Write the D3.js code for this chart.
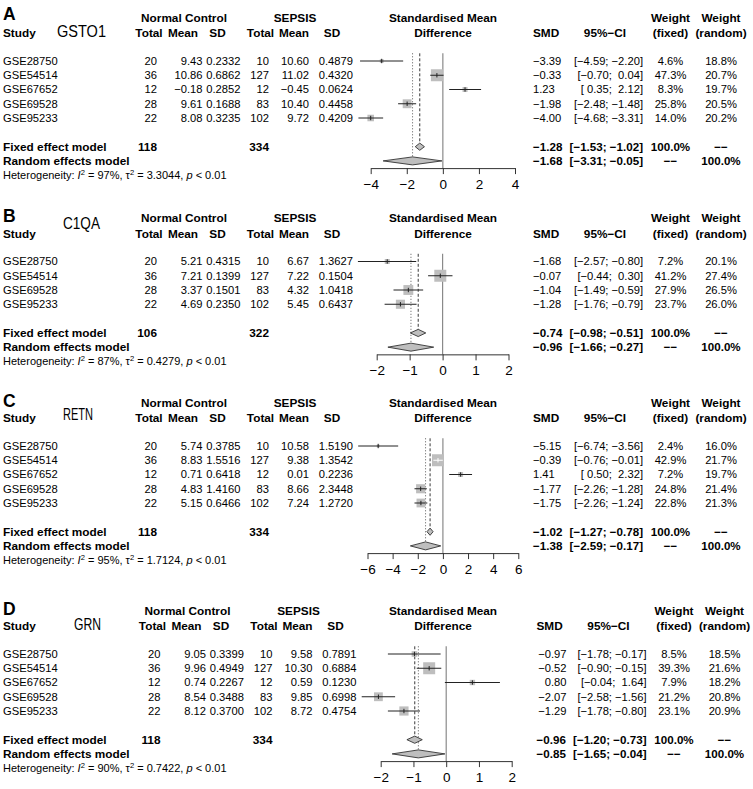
<!DOCTYPE html>
<html><head><meta charset="utf-8">
<script src="https://cdn.jsdelivr.net/npm/d3@7"></script>
<style>
body{margin:0;background:#fff;}
svg text{font-family:"Liberation Sans",Arial,Helvetica,sans-serif;white-space:pre;fill:#000;}
</style></head><body>
<svg id="chart" width="753" height="789"></svg>
<script>
// ---------------- DATA ----------------
// Panel A: GSTO1
const A_studies = ["GSE28750","GSE54514","GSE67652","GSE69528","GSE95233"];
const A_ncTotal = [20,36,12,28,22];
const A_ncMean  = [9.43,10.86,-0.18,9.61,8.08];
const A_ncSD    = [0.2332,0.6862,0.2852,0.1688,0.3235];
const A_sTotal  = [10,127,12,83,102];
const A_sMean   = [10.60,11.02,-0.45,10.40,9.72];
const A_sSD     = [0.4879,0.4320,0.0624,0.4458,0.4209];
const A_smd     = [-3.39,-0.33,1.23,-1.98,-4.00];
const A_lo      = [-4.59,-0.70,0.35,-2.48,-4.68];
const A_hi      = [-2.20,0.04,2.12,-1.48,-3.31];
const A_wFixed  = [4.6,47.3,8.3,25.8,14.0];
const A_wRandom = [18.8,20.7,19.7,20.5,20.2];
const A_fixed   = [-1.28,-1.53,-1.02];
const A_random  = [-1.68,-3.31,-0.05];
const A_totals  = [118,334];
const A_het     = ["97%","3.3044","0.01"];
const A_ticks   = [-4,-2,0,2,4];

// Panel B: C1QA
const B_studies = ["GSE28750","GSE54514","GSE69528","GSE95233"];
const B_ncTotal = [20,36,28,22];
const B_ncMean  = [5.21,7.21,3.37,4.69];
const B_ncSD    = [0.4315,0.1399,0.1501,0.2350];
const B_sTotal  = [10,127,83,102];
const B_sMean   = [6.67,7.22,4.32,5.45];
const B_sSD     = [1.3627,0.1504,1.0418,0.6437];
const B_smd     = [-1.68,-0.07,-1.04,-1.28];
const B_lo      = [-2.57,-0.44,-1.49,-1.76];
const B_hi      = [-0.80,0.30,-0.59,-0.79];
const B_wFixed  = [7.2,41.2,27.9,23.7];
const B_wRandom = [20.1,27.4,26.5,26.0];
const B_fixed   = [-0.74,-0.98,-0.51];
const B_random  = [-0.96,-1.66,-0.27];
const B_totals  = [106,322];
const B_het     = ["87%","0.4279","0.01"];
const B_ticks   = [-2,-1,0,1,2];

// Panel C: RETN
const C_studies = ["GSE28750","GSE54514","GSE67652","GSE69528","GSE95233"];
const C_ncTotal = [20,36,12,28,22];
const C_ncMean  = [5.74,8.83,0.71,4.83,5.15];
const C_ncSD    = [0.3785,1.5516,0.6418,1.4160,0.6466];
const C_sTotal  = [10,127,12,83,102];
const C_sMean   = [10.58,9.38,0.01,8.66,7.24];
const C_sSD     = [1.5190,1.3542,0.2236,2.3448,1.2720];
const C_smd     = [-5.15,-0.39,1.41,-1.77,-1.75];
const C_lo      = [-6.74,-0.76,0.50,-2.26,-2.26];
const C_hi      = [-3.56,-0.01,2.32,-1.28,-1.24];
const C_wFixed  = [2.4,42.9,7.2,24.8,22.8];
const C_wRandom = [16.0,21.7,19.7,21.4,21.3];
const C_fixed   = [-1.02,-1.27,-0.78];
const C_random  = [-1.38,-2.59,-0.17];
const C_totals  = [118,334];
const C_het     = ["95%","1.7124","0.01"];
const C_ticks   = [-6,-4,-2,0,2,4,6];

// Panel D: GRN
const D_studies = ["GSE28750","GSE54514","GSE67652","GSE69528","GSE95233"];
const D_ncTotal = [20,36,12,28,22];
const D_ncMean  = [9.05,9.96,0.74,8.54,8.12];
const D_ncSD    = [0.3399,0.4949,0.2267,0.3488,0.3700];
const D_sTotal  = [10,127,12,83,102];
const D_sMean   = [9.58,10.30,0.59,9.85,8.72];
const D_sSD     = [0.7891,0.6884,0.1230,0.6998,0.4754];
const D_smd     = [-0.97,-0.52,0.80,-2.07,-1.29];
const D_lo      = [-1.78,-0.90,-0.04,-2.58,-1.78];
const D_hi      = [-0.17,-0.15,1.64,-1.56,-0.80];
const D_wFixed  = [8.5,39.3,7.9,21.2,23.1];
const D_wRandom = [18.5,21.6,18.2,20.8,20.9];
const D_fixed   = [-0.96,-1.20,-0.73];
const D_random  = [-0.85,-1.65,-0.04];
const D_totals  = [118,334];
const D_het     = ["90%","0.7422","0.01"];
const D_ticks   = [-2,-1,0,1,2];

const panelLetters = ["A","B","C","D"];
const geneNames    = ["GSTO1","C1QA","RETN","GRN"];

// ---------------- BUILD ----------------
function mk(p){
  const g = (n)=>eval(p+"_"+n);
  return {studies:g("studies"),ncTotal:g("ncTotal"),ncMean:g("ncMean"),ncSD:g("ncSD"),
    sTotal:g("sTotal"),sMean:g("sMean"),sSD:g("sSD"),smd:g("smd"),lo:g("lo"),hi:g("hi"),
    wFixed:g("wFixed"),wRandom:g("wRandom"),fixed:g("fixed"),random:g("random"),
    totals:g("totals"),het:g("het"),ticks:g("ticks")};
}
const panels = ["A","B","C","D"].map(mk);

// layout (positions only)
const layouts = [
  {top:33,   dx:0,   range:[370.7,515.0], letterY:13.5,  gene:{x:57,y:31.5,w:49}, smdAnchor:"start"},
  {top:233.5,dx:0,   range:[376.7,508.5], letterY:216,   gene:{x:63,y:223.5,w:37}, smdAnchor:"start"},
  {top:418,  dx:0,   range:[367.5,518.3], letterY:401,   gene:{x:63,y:414,w:30}, smdAnchor:"start"},
  {top:626,  dx:3.5, range:[380.7,511.7], letterY:608.5, gene:{x:74,y:624,w:27}, smdAnchor:"end"}
];

const FS = 11.2, FH = 11.8, FB = 11.6, LH = 14.25;
const svg = d3.select("#chart");
const f2 = d3.format(".2f"), f4 = d3.format(".4f"), f1 = d3.format(".1f");
const pad5 = s => s.length < 5 ? " ".repeat(5 - s.length) + s : s;
const ciStr = (lo,hi) => "[" + pad5(f2(lo)) + "; " + pad5(f2(hi)) + "]";

function txt(g,x,y,s,o={}){
  return g.append("text").attr("x",x).attr("y",y).attr("dy","0.35em")
    .attr("text-anchor",o.anchor||"start").attr("font-size",o.size||(o.bold?FH:FS))
    .attr("font-weight",o.bold?"bold":null).text(s);
}

panels.forEach((P,pi)=>{
  const L = layouts[pi];
  const g = svg.append("g");
  const dx = L.dx;
  const h2 = L.top, h1 = L.top - 15.5;
  const C = {ncT:157+dx,ncM:202.5+dx,ncS:240.5+dx,sT:269+dx,sM:309+dx,sS:353+dx,
             smd:533+dx,smdR:563+dx,ci:643+dx,wf:670.5+dx,wr:721+dx};
  txt(g,3,L.letterY,panelLetters[pi],{bold:true,size:17.5});
  g.append("text").attr("x",L.gene.x).attr("y",L.gene.y).attr("dy","0.35em")
    .attr("font-size",17).attr("textLength",L.gene.w).attr("lengthAdjust","spacingAndGlyphs")
    .style("font-family","'Liberation Sans Narrow','Liberation Sans',sans-serif")
    .text(geneNames[pi]);
  txt(g,184+dx,h1,"Normal Control",{bold:true,anchor:"middle"});
  txt(g,295+dx,h1,"SEPSIS",{bold:true,anchor:"middle"});
  txt(g,443,h1,"Standardised Mean",{bold:true,anchor:"middle"});
  txt(g,670.5+dx,h1,"Weight",{bold:true,anchor:"middle"});
  txt(g,721+dx,h1,"Weight",{bold:true,anchor:"middle"});
  txt(g,3,h2,"Study",{bold:true});
  [["Total",149],["Mean",183],["SD",217.5],["Total",260.5],["Mean",294],["SD",332]]
    .forEach(([s,x])=>txt(g,x+dx,h2,s,{bold:true,anchor:"middle"}));
  txt(g,443,h2,"Difference",{bold:true,anchor:"middle"});
  txt(g,533+dx,h2,"SMD",{bold:true});
  txt(g,605+dx,h2,"95%\u2212CI",{bold:true,anchor:"middle"});
  txt(g,670.5+dx,h2,"(fixed)",{bold:true,anchor:"middle"});
  txt(g,721+dx,h2,"(random)",{bold:true,anchor:"middle"});

  const n = P.studies.length;
  const rowY = i => h2 + 28 + i*LH;
  const yFixed = rowY(n-1) + 28.7, yRandom = yFixed + 14.2, yHet = yRandom + 14.2;
  const yAxis = yRandom + 7.2;

  P.studies.forEach((s,i)=>{
    const y = rowY(i);
    txt(g,3,y,s);
    txt(g,C.ncT,y,String(P.ncTotal[i]),{anchor:"end"});
    txt(g,C.ncM,y,f2(P.ncMean[i]),{anchor:"end"});
    txt(g,C.ncS,y,f4(P.ncSD[i]),{anchor:"end"});
    txt(g,C.sT,y,String(P.sTotal[i]),{anchor:"end"});
    txt(g,C.sM,y,f2(P.sMean[i]),{anchor:"end"});
    txt(g,C.sS,y,f4(P.sSD[i]),{anchor:"end"});
    if (L.smdAnchor==="start") txt(g,C.smd,y,f2(P.smd[i]));
    else txt(g,C.smdR,y,f2(P.smd[i]),{anchor:"end"});
    txt(g,C.ci,y,ciStr(P.lo[i],P.hi[i]),{anchor:"end"});
    txt(g,C.wf,y,f1(P.wFixed[i])+"%",{anchor:"middle"});
    txt(g,C.wr,y,f1(P.wRandom[i])+"%",{anchor:"middle"});
  });
  txt(g,3,yFixed,"Fixed effect model",{bold:true});
  txt(g,C.ncT,yFixed,String(P.totals[0]),{bold:true,anchor:"end"});
  txt(g,C.sT,yFixed,String(P.totals[1]),{bold:true,anchor:"end"});
  txt(g,3,yRandom,"Random effects model",{bold:true});
  [[yFixed,P.fixed,"100.0%","\u2212\u2212"],[yRandom,P.random,"\u2212\u2212","100.0%"]].forEach(([y,v,a,b])=>{
    txt(g,C.smd,y,f2(v[0]),{bold:true,size:FB});
    txt(g,C.ci,y,ciStr(v[1],v[2]),{bold:true,anchor:"end",size:FB});
    txt(g,C.wf,y,a,{bold:true,anchor:"middle",size:FB});
    txt(g,C.wr,y,b,{bold:true,anchor:"middle",size:FB});
  });
  const ht = g.append("text").attr("x",3).attr("y",yHet).attr("dy","0.35em").attr("font-size",11);
  ht.append("tspan").text("Heterogeneity: ");
  ht.append("tspan").attr("font-style","italic").text("I");
  ht.append("tspan").attr("font-size",7.6).attr("dy",-4).text("2");
  ht.append("tspan").attr("dy",4).text(" = "+P.het[0]+", \u03c4");
  ht.append("tspan").attr("font-size",7.6).attr("dy",-4).text("2");
  ht.append("tspan").attr("dy",4).text(" = "+P.het[1]+", ");
  ht.append("tspan").attr("font-style","italic").text("p");
  ht.append("tspan").text(" < "+P.het[2]);

  // forest
  const dom = d3.extent(P.ticks);
  const x = d3.scaleLinear().domain(dom).range(L.range);
  const yTop = rowY(0) - 7.7;
  g.append("line").attr("x1",x(0)).attr("x2",x(0)).attr("y1",yTop).attr("y2",yAxis)
    .attr("stroke","#8a8a8a").attr("stroke-width",1.2);
  g.append("line").attr("x1",x(P.fixed[0])).attr("x2",x(P.fixed[0])).attr("y1",yTop).attr("y2",yFixed-3.6)
    .attr("stroke","#222").attr("stroke-width",0.9).attr("stroke-dasharray","3,2");
  g.append("line").attr("x1",x(P.random[0])).attr("x2",x(P.random[0])).attr("y1",yTop).attr("y2",yRandom-4)
    .attr("stroke","#444").attr("stroke-width",0.9).attr("stroke-dasharray","1,2");
  const wmax = d3.max(P.wFixed);
  P.smd.forEach((m,i)=>{
    const y = rowY(i), side = 12*Math.sqrt(P.wFixed[i]/wmax);
    g.append("rect").attr("x",x(m)-side/2).attr("y",y-side/2).attr("width",side).attr("height",side)
      .attr("fill","#bebebe");
    const inside = (x(P.hi[i])-x(P.lo[i])) < side;
    const col = inside ? "#fff" : "#222";
    g.append("line").attr("x1",x(P.lo[i])).attr("x2",x(P.hi[i])).attr("y1",y).attr("y2",y)
      .attr("stroke",col).attr("stroke-width",1);
    g.append("line").attr("x1",x(m)).attr("x2",x(m)).attr("y1",y-2.2).attr("y2",y+2.2)
      .attr("stroke",col).attr("stroke-width",1);
  });
  [[yFixed,P.fixed,3.6],[yRandom,P.random,4]].forEach(([y,v,hh])=>{
    const pts = [[x(v[1]),y],[x(v[0]),y-hh],[x(v[2]),y],[x(v[0]),y+hh]];
    g.append("polygon").attr("points",pts.map(p=>p.join(",")).join(" "))
      .attr("fill","#bebebe").attr("stroke","#333").attr("stroke-width",0.9);
  });
  const ax = g.append("g").attr("transform",`translate(0,${yAxis})`)
    .call(d3.axisBottom(x).tickValues(P.ticks).tickSize(6).tickSizeOuter(0).tickPadding(5).tickFormat(d3.format("d")));
  ax.select(".domain").attr("stroke","#333");
  ax.selectAll(".tick line").attr("stroke","#333");
  ax.selectAll(".tick text").attr("font-size",13.5).attr("font-family","Liberation Sans, Arial, sans-serif").attr("fill","#000");
});
</script>
</body></html>
